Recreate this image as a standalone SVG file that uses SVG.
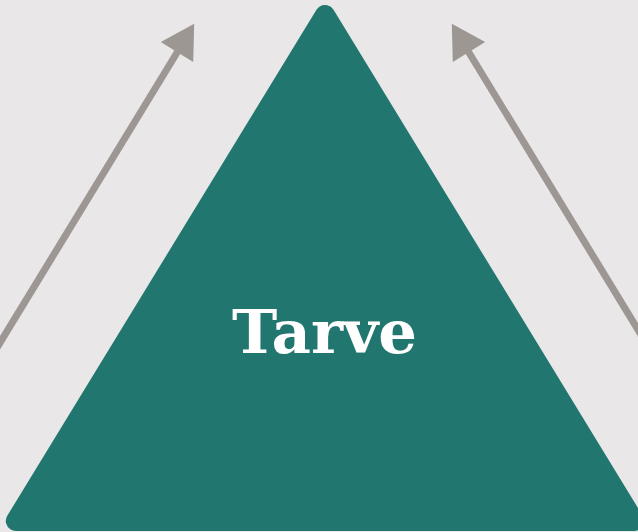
<svg xmlns="http://www.w3.org/2000/svg" width="638" height="532" viewBox="0 0 638 532">
  <style>
    .bg { fill: #E9E7E7; }
    .tri { fill: #21776F; stroke: #21776F; stroke-width: 20; stroke-linejoin: round; }
    .label { fill: #FFFFFF; font-family: "DejaVu Serif", "Liberation Serif", serif; font-weight: bold; font-size: 60px; text-anchor: middle; }
    .shaft { stroke: #9D9793; stroke-width: 7; fill: none; }
    .head { fill: #9D9793; }
  </style>
  <rect class="bg" x="0" y="0" width="638" height="532"/>
  <g id="connectors">
    <g id="arrow-left">
      <line class="shaft" x1="-5" y1="351" x2="178" y2="51"/>
      <polygon class="head" points="194.2,23.8 160.8,42.1 193.2,61.9"/>
    </g>
    <g id="arrow-right">
      <line class="shaft" x1="651" y1="351" x2="468" y2="51"/>
      <polygon class="head" points="451.8,23.8 485.2,42.1 452.8,61.9"/>
    </g>
  </g>
  <g id="node-tarve">
    <polygon class="tri" points="325,15 15.8,521 634.2,521"/>
    <text class="label" x="324.5" y="353" textLength="185" lengthAdjust="spacingAndGlyphs">Tarve</text>
  </g>
</svg>
